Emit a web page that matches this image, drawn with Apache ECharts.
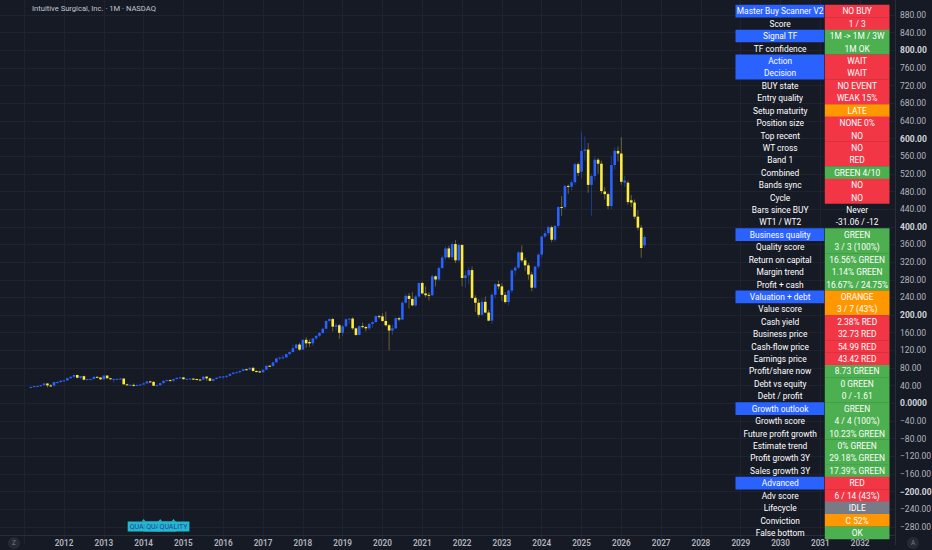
<!DOCTYPE html>
<html>
<head>
<meta charset="utf-8">
<script src="https://cdn.jsdelivr.net/npm/echarts@6/dist/echarts.min.js"></script>
<style>
html,body{margin:0;padding:0;background:#161a25;}
#chart{width:932px;height:550px;}
</style>
</head>
<body>
<div id="chart"></div>
<script>
// ---------- DATA ----------
const chartTitle = "Intuitive Surgical, Inc. · 1M · NASDAQ";
const firstYear = 2011;          // first bar = March 2011
const firstMonth = 3;
// monthly bars: [open, high, low, close]
const ohlc2011 = [[36,38,34,37],[37,40,36,39],[39,40,37,39.5],[39.5,42,37,41.3],[41.3,47,40,45],[45,46,36,40.6],[40.6,44,38,40.4],[40.4,49,37,48.2],[48.2,50,44,48.4],[48.4,52,46,51.4]];
const ohlc2012 = [[51.4,54,50,52],[52,58,51,57],[57,61,56,60.2],[60.2,65,57,64.2],[64.2,65,57,58],[58,62,55,61.6],[61.6,63,52,53.6],[53.6,56,52,54.9],[54.9,56,53,55.2],[55.2,61,54,60.2],[60.2,61,57,58.6],[58.6,59.5,53,54.4]];
const ohlc2013 = [[54.4,64,53.5,63],[63,64,55,56.9],[56.9,58,53,54.6],[54.6,57,47,54.9],[54.9,57,53,55.2],[55.2,58,54,56.2],[56.2,57,42.5,43.1],[43.1,44.5,40.5,41.7],[41.7,44,40,41.9],[41.9,45,38,41.2],[41.2,43,39.5,41.7],[41.7,44,40.5,42.7]];
const ohlc2014 = [[42.7,47,42,45.3],[45.3,51,44,49.7],[49.7,51,47,48.7],[48.7,50,39,40],[40,42.5,39,41.1],[41.1,46.5,40.5,45.8],[45.8,53,45,50.8],[50.8,53.5,50,52.6],[52.6,54,50.5,51.3],[51.3,56,48,55],[55,58.5,54,57.8],[57.8,60,56,58.8]];
const ohlc2015 = [[58.8,59.5,53.5,54.9],[54.9,57,53.5,55.6],[55.6,57.5,54.5,56.1],[56.1,57,53.5,55.1],[55.1,56,53,54],[54,55.5,53,53.8],[53.8,61.5,53.5,60.6],[60.6,61.5,51,56.7],[56.7,58,50,51.1],[51.1,56,50.5,55.1],[55.1,58.5,54.5,58],[58,61,57,60.7]];
const ohlc2016 = [[60.7,62,55,61],[61,63,57,62.4],[62.4,67.5,61.5,66.8],[66.8,71,65.5,69.6],[69.6,72,68.5,70.6],[70.6,74,68,73.4],[73.4,78.5,72.5,77.3],[77.3,78.5,75,76.6],[76.6,81.5,75.5,80.6],[80.6,81.5,72,73.3],[73.3,75,70,72.4],[72.4,74,69.5,70.4]];
const ohlc2017 = [[70.4,76.5,69.5,76.1],[76.1,86,75.5,85.2],[85.2,87,83,85],[85,94,83,92.9],[92.9,103,92,102],[102,106,98,103.9],[103.9,110,100,104.2],[104.2,113,103,111.6],[111.6,118,109,116.2],[116.2,133,115,125],[125,135,123,133.3],[133.3,137,119,121.7]];
const ohlc2018 = [[121.7,145,121,144],[144,150,126,136],[139,145,128,136],[136,148,130,147],[147,154,144,153],[153,162,150,159.5],[159.5,171,157,169],[169,188,168,186.7],[186.7,193,183,191],[191,194,163,173.8],[173.8,182,165,177],[177,180,146,159.7]];
const ohlc2019 = [[159.7,178,152,174.6],[174.6,192,172,190.5],[190.5,193,180,192],[192,195,166,170],[170,172,153,155],[155,177,154,175],[175,183,170,173],[173,176,163,170],[170,182,166,180],[180,186,171,184],[184,199,183,197.6],[197.6,201,192,197]];
const ohlc2020 = [[197,204,185,186.6],[186.6,208,174,177],[177,180,120,165],[165,178,155,170],[170,195,168,193],[193,196,186,190],[190,232,189,228],[228,248,226,243.6],[243.6,250,215,236.6],[236.6,252,220,222],[222,246,219,242],[242,275,240,272.7]];
const ohlc2021 = [[272.7,276,247,249],[249,265,240,245],[246,252,233,245],[245,292,243,288],[288,290,265,280.6],[280.6,310,277,306.6],[306.6,335,305,330.4],[330.4,356,325,351],[351,357,328,331],[331,365,325,361],[361,370,318,324],[324,362,320,359]];
const ohlc2022 = [[359,360,265,284],[284,300,262,290],[290,308,270,302],[302,310,236,239],[239,245,207,228],[228,236,195,200.7],[200.7,238,198,230],[230,242,204,205.7],[205.7,212,186,187.4],[187.4,251,180,246],[246,272,238,270],[270,278,258,265]];
const ohlc2023 = [[265,272,232,245.7],[245.7,252,226,229.5],[229.5,258,222,255.5],[255.5,304,250,301],[301,312,290,307.5],[307.5,345,305,342],[342,358,320,324],[324,330,300,312.7],[312.7,318,280,292],[292,298,254,262],[262,312,260,310],[310,340,305,337]];
const ohlc2024 = [[337,380,330,378],[378,392,374,385.6],[385.6,403,380,399],[399,403,365,370.7],[370.7,404,366,402],[402,447,398,444.8],[444.8,470,425,444.6],[444.6,495,440,492.6],[492.6,496,475,491],[491,506,482,501],[501,545,495,542],[542,546,515,522]];
const ohlc2025 = [[525,616,510,572],[572,605,550,575],[575,590,477,495],[495,520,425,515],[515,560,505,552],[552,556,520,543],[543,550,475,481],[480,490,462,474],[474,478,440,447],[447,560,440,540],[540,580,530,572],[572,582,548,566]];
const ohlc2026 = [[566,603,495,502],[500,515,490,505],[500,505,450,456],[460,472,445,455],[455,462,418,423],[423,438,392,398],[398,404,330,352],[358,382,352,377]];

const yearLabelsFrom = 2012, yearLabelsTo = 2032;
const qualityMarkMonths = ["2014-01","2014-06","2014-10"];
const qualityMarkText = "QUALITY";
const qualityMarkLevel = -279;

const tableLabels = ["Master Buy Scanner V2","Score","Signal TF","TF confidence","Action","Decision","BUY state","Entry quality","Setup maturity","Position size","Top recent","WT cross","Band 1","Combined","Bands sync","Cycle","Bars since BUY","WT1 / WT2","Business quality","Quality score","Return on capital","Margin trend","Profit + cash","Valuation + debt","Value score","Cash yield","Business price","Cash-flow price","Earnings price","Profit/share now","Debt vs equity","Debt / profit","Growth outlook","Growth score","Future profit growth","Estimate trend","Profit growth 3Y","Sales growth 3Y","Advanced","Adv score","Lifecycle","Conviction","False bottom"];
const tableValues = ["NO BUY","1 / 3","1M -> 1M / 3W","1M OK","WAIT","WAIT","NO EVENT","WEAK 15%","LATE","NONE 0%","NO","NO","RED","GREEN 4/10","NO","NO","Never","-31.06 / -12","GREEN","3 / 3 (100%)","16.56% GREEN","1.14% GREEN","16.67% / 24.75%","ORANGE","3 / 7 (43%)","2.38% RED","32.73 RED","54.99 RED","43.42 RED","8.73 GREEN","0 GREEN","0 / -1.61","GREEN","4 / 4 (100%)","10.23% GREEN","0% GREEN","29.18% GREEN","17.39% GREEN","RED","6 / 14 (43%)","IDLE","C 52%","OK"];
const headerRows = [0,2,4,5,18,23,32,38];
const valueTones = ["R","R","G","G","R","R","R","R","O","R","R","R","R","G","R","R","","","G","G","G","G","G","O","O","R","R","R","R","G","G","G","G","G","G","G","G","G","R","R","N","O","G"];

// ---------- STYLE ----------
const BG = '#161a25', GRID = '#1f2330', BORDER = '#2a2e39';
const UP = '#2962ff', DOWN = '#ffeb3b';
const UP_WICK = 'rgba(41,98,255,0.45)', DOWN_WICK = 'rgba(255,235,59,0.35)';
const TONE = {R:'#f23645', G:'#4caf50', O:'#ff9800', N:'#787b86', B:'#2962ff'};
const FONT = 'Roboto, "Noto Sans", sans-serif';

// ---------- BUILD ----------
const allYears = [ohlc2011,ohlc2012,ohlc2013,ohlc2014,ohlc2015,ohlc2016,ohlc2017,ohlc2018,ohlc2019,ohlc2020,ohlc2021,ohlc2022,ohlc2023,ohlc2024,ohlc2025,ohlc2026];
const bars = [];
allYears.forEach((arr, yi) => {
  arr.forEach((b, k) => {
    const monthIdx = yi * 12 + (yi === 0 ? firstMonth - 1 + k : k); // months since Jan 2011
    bars.push([monthIdx, b[0], b[1], b[2], b[3]]);
  });
});
function monthIndex(s){ const [y,m] = s.split('-').map(Number); return (y - firstYear) * 12 + (m - 1); }
const qualityData = qualityMarkMonths.map(s => [monthIndex(s), qualityMarkLevel]);

// table graphics
const tbl = { x0: 735.5, xSplit: 824.8, x1: 889.5, top: 4.8, rowH: 12.42 };
const graphics = [];
tableLabels.forEach((lab, i) => {
  const y = tbl.top + i * tbl.rowH;
  if (headerRows.includes(i)) {
    graphics.push({type:'rect', shape:{x:tbl.x0, y:y, width:tbl.xSplit - tbl.x0 - 0.6, height:tbl.rowH + 0.3}, style:{fill:TONE.B}, z:100});
  }
  const tone = valueTones[i];
  if (tone) {
    graphics.push({type:'rect', shape:{x:tbl.xSplit, y:y, width:tbl.x1 - tbl.xSplit, height:tbl.rowH + 0.3}, style:{fill:TONE[tone]}, z:100});
  }
  graphics.push({type:'text', x:(tbl.x0 + tbl.xSplit) / 2, y:y + tbl.rowH / 2 + 0.3, z:101,
    style:{text:lab, fill:'#ffffff', fontSize:8.4, fontFamily:FONT, align:'center', verticalAlign:'middle', textAlign:'center', textVerticalAlign:'middle'}});
  graphics.push({type:'text', x:(tbl.xSplit + tbl.x1) / 2, y:y + tbl.rowH / 2 + 0.3, z:101,
    style:{text:tableValues[i], fill:'#ffffff', fontSize:8.4, fontFamily:FONT, align:'center', verticalAlign:'middle', textAlign:'center', textVerticalAlign:'middle'}});
});
// title
graphics.push({type:'text', x:32, y:8, z:101, style:{text:chartTitle, fill:'#c3c6ce', fontSize:7.6, fontFamily:FONT, align:'left', verticalAlign:'middle', textAlign:'left', textVerticalAlign:'middle'}});
// corner buttons
graphics.push({type:'circle', shape:{cx:14, cy:543, r:6}, style:{fill:'#262a35'}, z:101});
graphics.push({type:'text', x:14, y:543, z:102, style:{text:'Z', fill:'#787b86', fontSize:6.5, fontFamily:FONT, align:'center', verticalAlign:'middle', textAlign:'center', textVerticalAlign:'middle'}});
graphics.push({type:'circle', shape:{cx:913, cy:543, r:6}, style:{fill:'#262a35'}, z:101});
graphics.push({type:'text', x:913, y:543, z:102, style:{text:'A', fill:'#787b86', fontSize:6.5, fontFamily:FONT, align:'center', verticalAlign:'middle', textAlign:'center', textVerticalAlign:'middle'}});

// y split line colors: hide the off-scale -320 line
const yLineColors = [];
for (let v = -320; v <= 920; v += 40) yLineColors.push(v < -280 ? 'rgba(0,0,0,0)' : GRID);

const option = {
  backgroundColor: BG,
  animation: false,
  textStyle: { fontFamily: FONT },
  grid: { left: -15.6, right: 37, top: -2.7, bottom: 5.4, containLabel: false, outerBoundsMode: 'none' },
  xAxis: {
    type: 'value', min: -12, max: 262.5, interval: 12,
    offset: -9,
    axisLine: { show: true, onZero: false, lineStyle: { color: BORDER } },
    axisTick: { show: false },
    splitLine: { show: true, lineStyle: { color: GRID, width: 1 } },
    axisLabel: {
      margin: 3, color: '#b2b5be', fontSize: 8.2, fontWeight: 600, fontFamily: FONT,
      formatter: v => {
        if (v % 12 !== 0) return '';
        const y = firstYear + v / 12;
        return (y >= yearLabelsFrom && y <= yearLabelsTo) ? String(y) : '';
      }
    }
  },
  yAxis: {
    type: 'value', position: 'right', min: -320, max: 920, interval: 40,
    axisLine: { show: true, onZero: false, lineStyle: { color: BORDER } },
    axisTick: { show: false },
    splitLine: { show: true, lineStyle: { color: yLineColors, width: 1 } },
    axisLabel: {
      margin: 5, fontSize: 8.5, fontFamily: FONT, color: '#b2b5be',
      formatter: v => {
        if (v < -280 || v > 880) return '';
        let s = v === 0 ? '0.0000' : Math.abs(v).toFixed(2);
        if (v < 0) s = '\u2212' + s;
        return (v % 200 === 0) ? '{b|' + s + '}' : '{n|' + s + '}';
      },
      rich: {
        b: { fontSize: 8.5, fontWeight: 'bold', color: '#d1d4dc', fontFamily: FONT },
        n: { fontSize: 8.5, color: '#b2b5be', fontFamily: FONT }
      }
    }
  },
  series: [
    {
      type: 'custom',
      name: 'ISRG',
      data: bars,
      encode: { x: 0, y: [1, 2, 3, 4] },
      renderItem: (params, api) => {
        const m = api.value(0), o = api.value(1), h = api.value(2), l = api.value(3), c = api.value(4);
        const pO = api.coord([m, o]), pC = api.coord([m, c]), pH = api.coord([m, h]), pL = api.coord([m, l]);
        const up = c >= o;
        const bw = api.size([1, 0])[0] * 0.78;
        const cx = pO[0];
        const yTop = Math.min(pO[1], pC[1]);
        const bh = Math.max(1, Math.abs(pO[1] - pC[1]));
        return {
          type: 'group',
          children: [
            { type: 'line', shape: { x1: cx, y1: pH[1], x2: cx, y2: pL[1] }, style: { stroke: up ? UP_WICK : DOWN_WICK, lineWidth: 1 } },
            { type: 'rect', shape: { x: cx - bw / 2, y: yTop, width: bw, height: bh }, style: { fill: up ? UP : DOWN } }
          ]
        };
      },
      z: 5
    },
    {
      type: 'custom',
      name: 'QUALITY',
      data: qualityData,
      encode: { x: 0, y: 1 },
      renderItem: (params, api) => {
        const p = api.coord([api.value(0), api.value(1)]);
        return {
          type: 'group',
          children: [
            { type: 'polygon', shape: { points: [[p[0] - 2, p[1] - 5], [p[0] + 2, p[1] - 5], [p[0], p[1] - 7.5]] }, style: { fill: '#22b8cf' } },
            { type: 'text', x: p[0], y: p[1], style: { text: qualityMarkText, fill: '#2b3a9a', fontSize: 7, fontFamily: FONT,
              align: 'center', verticalAlign: 'middle', backgroundColor: '#22b8cf', padding: [1.5, 2, 1.5, 2] } }
          ]
        };
      },
      z: 6
    }
  ],
  graphic: graphics
};

const chart = echarts.init(document.getElementById('chart'), null, { renderer: 'svg' });
chart.setOption(option);
</script>
</body>
</html>
